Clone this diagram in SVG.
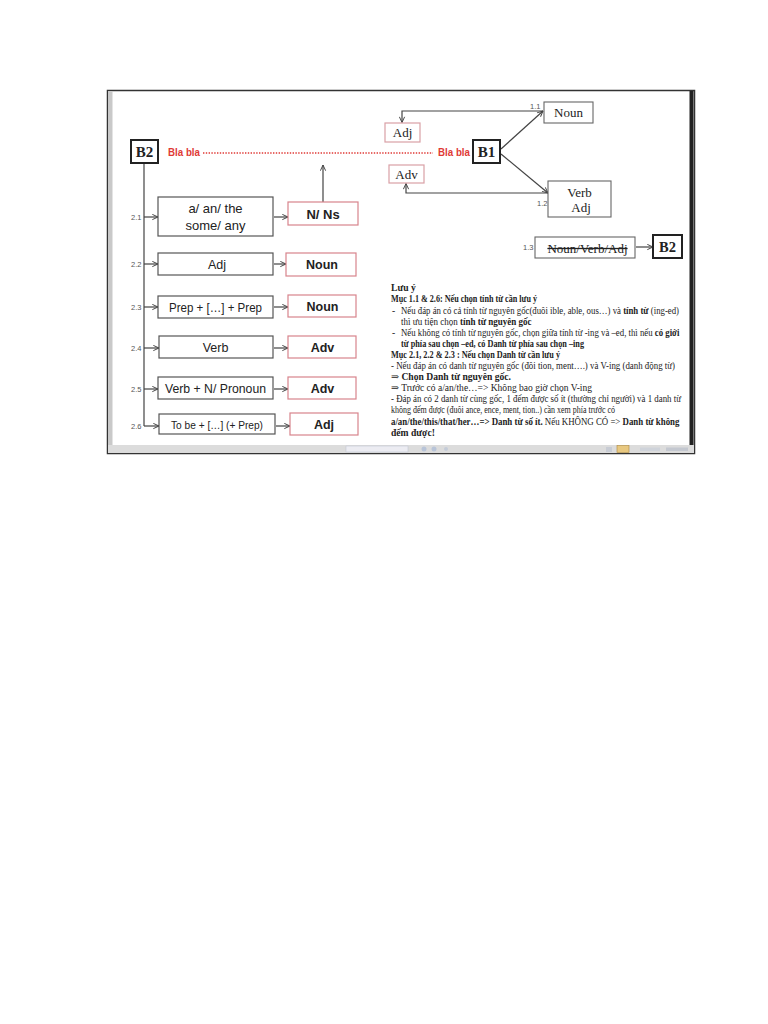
<svg xmlns="http://www.w3.org/2000/svg" width="768" height="1024" viewBox="0 0 768 1024">
<style>
.box{fill:#fff;stroke:#555;stroke-width:1.2}
.rbox{fill:#fff;stroke:#d8848c;stroke-width:1.2}
.pbox{fill:#fff;stroke:#d9a0a6;stroke-width:1.2}
.sbox{fill:#fff;stroke:#666;stroke-width:1.1}
.bbox{fill:#fff;stroke:#222;stroke-width:2}
.sans{font-family:"Liberation Sans","Open Sans",sans-serif;fill:#222}
.serif{font-family:"Liberation Serif","DejaVu Serif",serif;fill:#222}
.lbl{font-family:"Liberation Sans",sans-serif;font-size:7.5px;fill:#555}
.note{font-family:"Liberation Serif","DejaVu Serif",serif;font-size:9.6px;fill:#222}
.b{font-weight:bold}
.con{fill:none;stroke:#444;stroke-width:1.2}
.red{fill:#e03a36;font-family:"Liberation Sans",sans-serif;font-weight:bold;font-size:11px}
</style>
<defs>
<marker id="ah" viewBox="0 0 8 8" refX="7.5" refY="4" markerWidth="7" markerHeight="7" orient="auto" markerUnits="userSpaceOnUse">
<path d="M1,1 L7.5,4 L1,7" fill="none" stroke="#444" stroke-width="1.1"/>
</marker>
</defs>
<rect width="768" height="1024" fill="#fff"/>

<g id="frame">
<rect x="107.5" y="90.5" width="587" height="363" fill="#fff" stroke="#333" stroke-width="1.5"/>
<rect x="108" y="91" width="4.5" height="362" fill="#c9c9c9"/>
<rect x="689.5" y="91" width="4" height="354" fill="#222"/>
<rect x="108" y="445" width="586" height="8" fill="#dcdcdc"/>
<rect x="346" y="446" width="62" height="6" fill="#ececf2" stroke="#c4c8d4" stroke-width="0.6"/>
<circle cx="424" cy="449" r="2.5" fill="#b8c4d8"/>
<circle cx="434" cy="449" r="2.5" fill="#b8c4d8"/>
<circle cx="446" cy="449" r="2" fill="#c4ccd8"/>
<rect x="606" y="447" width="6" height="5" fill="#c8ccd4"/>
<rect x="617" y="445.5" width="12" height="7" fill="#e8c880" stroke="#b08a40" stroke-width="0.6"/>
<rect x="640" y="447.5" width="20" height="3.5" fill="#cfd3da"/>
<rect x="666" y="447.5" width="22" height="3.5" fill="#c4c8d0"/>
</g>

<g id="connectors">
<line x1="203" y1="153" x2="433" y2="153" stroke="#e03a36" stroke-width="1.6" stroke-dasharray="1.4 1.4"/>
<line class="con" x1="144" y1="163" x2="144" y2="426"/>
<line class="con" x1="144" y1="217" x2="158" y2="217" marker-end="url(#ah)"/>
<line class="con" x1="144" y1="264" x2="158" y2="264" marker-end="url(#ah)"/>
<line class="con" x1="144" y1="307" x2="158" y2="307" marker-end="url(#ah)"/>
<line class="con" x1="144" y1="348" x2="159" y2="348" marker-end="url(#ah)"/>
<line class="con" x1="144" y1="389" x2="158" y2="389" marker-end="url(#ah)"/>
<line class="con" x1="144" y1="426" x2="159" y2="426" marker-end="url(#ah)"/>
<line class="con" x1="274" y1="217" x2="288" y2="217" marker-end="url(#ah)"/>
<line class="con" x1="274" y1="264" x2="286" y2="264" marker-end="url(#ah)"/>
<line class="con" x1="274" y1="307" x2="288" y2="307" marker-end="url(#ah)"/>
<line class="con" x1="274" y1="348" x2="288" y2="348" marker-end="url(#ah)"/>
<line class="con" x1="274" y1="389" x2="288" y2="389" marker-end="url(#ah)"/>
<line class="con" x1="276" y1="426" x2="290" y2="426" marker-end="url(#ah)"/>
<line class="con" x1="323" y1="202" x2="323" y2="165" marker-end="url(#ah)"/>
<line class="con" x1="501" y1="149" x2="543" y2="111" marker-end="url(#ah)"/>
<line class="con" x1="501" y1="154" x2="548" y2="193" marker-end="url(#ah)"/>
<path class="con" d="M543,111 H402 V122.5" marker-end="url(#ah)"/>
<path class="con" d="M548,193 H406 V183.5" marker-end="url(#ah)"/>
<line class="con" x1="636" y1="247" x2="653" y2="247" marker-end="url(#ah)"/>
<text class="lbl" x="131" y="220">2.1</text>
<text class="lbl" x="131" y="267">2.2</text>
<text class="lbl" x="131" y="310">2.3</text>
<text class="lbl" x="131" y="351">2.4</text>
<text class="lbl" x="131" y="392">2.5</text>
<text class="lbl" x="131" y="429">2.6</text>
<text class="lbl" x="530" y="109">1.1</text>
<text class="lbl" x="537" y="206">1.2</text>
<text class="lbl" x="523" y="250">1.3</text>
</g>

<g id="B2">
<rect class="bbox" x="131" y="140" width="27" height="23"/>
<text class="serif b" x="144.5" y="157" font-size="15" text-anchor="middle">B2</text>
</g>
<g id="bla-left"><text class="red" x="168" y="156" textLength="32" lengthAdjust="spacingAndGlyphs">Bla bla</text></g>
<g id="bla-right"><text class="red" x="438" y="156" textLength="32" lengthAdjust="spacingAndGlyphs">Bla bla</text></g>
<g id="B1">
<rect class="bbox" x="473" y="140" width="27" height="23"/>
<text class="serif b" x="486.5" y="157" font-size="15" text-anchor="middle">B1</text>
</g>

<g id="n21">
<rect class="box" x="158" y="197" width="115" height="39"/>
<text class="sans" x="215.5" y="213" font-size="13" text-anchor="middle">a/ an/ the</text>
<text class="sans" x="215.5" y="230" font-size="13" text-anchor="middle">some/ any</text>
</g>
<g id="r21"><rect class="rbox" x="288" y="202" width="70" height="23"/>
<text class="sans b" x="323" y="219" font-size="13" text-anchor="middle">N/ Ns</text></g>

<g id="n22"><rect class="box" x="158" y="253" width="115" height="22"/>
<text class="sans" x="217" y="269" font-size="12.5" text-anchor="middle">Adj</text></g>
<g id="r22"><rect class="rbox" x="286" y="253" width="70" height="23"/>
<text class="sans b" x="322" y="269" font-size="12.5" text-anchor="middle">Noun</text></g>

<g id="n23"><rect class="box" x="158" y="296" width="115" height="22"/>
<text class="sans" x="215.5" y="312" font-size="12.5" text-anchor="middle" textLength="93" lengthAdjust="spacingAndGlyphs">Prep + […] + Prep</text></g>
<g id="r23"><rect class="rbox" x="288" y="295" width="68" height="22"/>
<text class="sans b" x="322.5" y="311" font-size="12.5" text-anchor="middle">Noun</text></g>

<g id="n24"><rect class="box" x="159" y="336" width="114" height="22"/>
<text class="sans" x="215.5" y="352" font-size="12.5" text-anchor="middle">Verb</text></g>
<g id="r24"><rect class="rbox" x="288" y="336" width="68" height="22"/>
<text class="sans b" x="322.5" y="352" font-size="12.5" text-anchor="middle">Adv</text></g>

<g id="n25"><rect class="box" x="158" y="377" width="115" height="22"/>
<text class="sans" x="215.5" y="393" font-size="12.5" text-anchor="middle" textLength="101" lengthAdjust="spacingAndGlyphs">Verb + N/ Pronoun</text></g>
<g id="r25"><rect class="rbox" x="288" y="377" width="68" height="22"/>
<text class="sans b" x="322.5" y="393" font-size="12.5" text-anchor="middle">Adv</text></g>

<g id="n26"><rect class="box" x="159" y="414" width="116" height="20"/>
<text class="sans" x="217" y="429" font-size="11.5" text-anchor="middle" textLength="92" lengthAdjust="spacingAndGlyphs">To be + […] (+ Prep)</text></g>
<g id="r26"><rect class="rbox" x="290" y="413" width="68" height="22"/>
<text class="sans b" x="324" y="429" font-size="12.5" text-anchor="middle">Adj</text></g>

<g id="noun11"><rect class="sbox" x="544" y="102" width="49" height="21"/>
<text class="serif" x="568.5" y="117" font-size="13" text-anchor="middle">Noun</text></g>
<g id="adjL"><rect class="pbox" x="385" y="123" width="35" height="19"/>
<text class="serif" x="402.5" y="137" font-size="13" text-anchor="middle">Adj</text></g>
<g id="advL"><rect class="pbox" x="389" y="165" width="35" height="18"/>
<text class="serif" x="406.5" y="178.5" font-size="13" text-anchor="middle">Adv</text></g>
<g id="verbadj"><rect class="sbox" x="548" y="181" width="63" height="36"/>
<text class="serif" x="579.5" y="196.5" font-size="13" text-anchor="middle">Verb</text>
<text class="serif" x="581" y="212" font-size="13" text-anchor="middle">Adj</text></g>
<g id="nva"><rect class="sbox" x="535" y="237" width="100" height="21"/>
<text class="serif" x="587.5" y="252.5" font-size="13" text-anchor="middle" text-decoration="line-through">Noun/Verb/Adj</text></g>
<g id="B2r"><rect class="bbox" x="653" y="235" width="29" height="23"/>
<text class="serif b" x="667.5" y="252" font-size="14.5" text-anchor="middle">B2</text></g>

<g id="notes">
<text class="note b" x="391" y="291">Lưu ý</text>
<text class="note b" x="391" y="302" textLength="146" lengthAdjust="spacingAndGlyphs">Mục 1.1 &amp; 2.6: Nếu chọn tính từ cần lưu ý</text>
<text class="note" x="392" y="313.5">-</text>
<text class="note" transform="translate(401,313.5) scale(0.914,1)">Nếu đáp án có cả tính từ nguyên gốc(đuôi ible, able, ous…) và <tspan class="b">tính từ</tspan> (ing-ed)</text>
<text class="note" transform="translate(401,324.5) scale(0.94,1)">thì ưu tiện chọn <tspan class="b">tính từ nguyên gốc</tspan></text>
<text class="note" x="392" y="335.5">-</text>
<text class="note" transform="translate(401,335.5) scale(0.914,1)">Nếu không có tính từ nguyên gốc, chọn giữa tính từ -ing và –ed, thì nếu <tspan class="b">có giới</tspan></text>
<text class="note b" x="401" y="346.5" textLength="183" lengthAdjust="spacingAndGlyphs">từ phía sau chọn –ed, có Danh từ phía sau chọn –ing</text>
<text class="note b" x="391" y="357.5" textLength="169" lengthAdjust="spacingAndGlyphs">Mục 2.1, 2.2 &amp; 2.3 : Nếu chọn Danh từ cần lưu ý</text>
<text class="note" x="391" y="368.5" textLength="284" lengthAdjust="spacingAndGlyphs">- Nếu đáp án có danh từ nguyên gốc (đôi tion, ment….) và V-ing (danh động từ)</text>
<text class="note" x="391" y="379.5">⇒ <tspan class="b">Chọn Danh từ nguyên gốc.</tspan></text>
<text class="note" x="391" y="390.5" textLength="201" lengthAdjust="spacingAndGlyphs">⇒ Trước có a/an/the…=&gt; Không bao giờ chọn V-ing</text>
<text class="note" x="391" y="401.5" textLength="290" lengthAdjust="spacingAndGlyphs">- Đáp án có 2 danh từ cùng gốc, 1 đếm được số ít (thường chỉ người) và 1 danh từ</text>
<text class="note" x="391" y="413" textLength="224" lengthAdjust="spacingAndGlyphs">không đếm được (đuôi ance, ence, ment, tion..) cần xem phía trước có</text>
<text class="note" transform="translate(391,424.5) scale(0.922,1)"><tspan class="b">a/an/the/this/that/her…=&gt; Danh từ số ít.</tspan> Nếu KHÔNG CÓ =&gt; <tspan class="b">Danh từ không</tspan></text>
<text class="note b" x="391" y="436">đếm được!</text>
</g>
</svg>
